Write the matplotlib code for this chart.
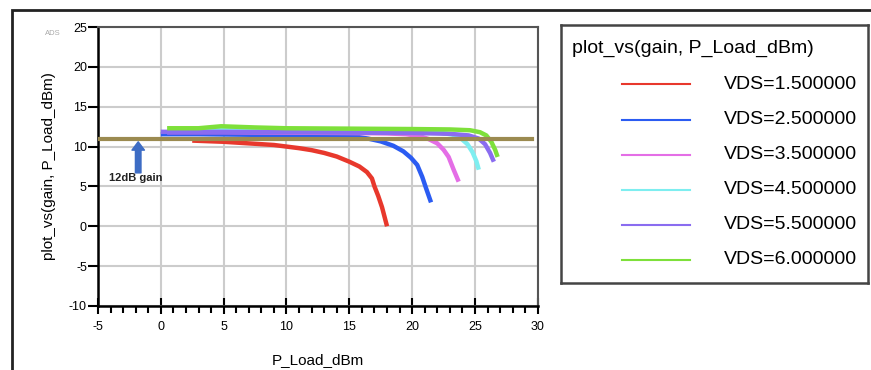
import matplotlib.pyplot as plt
from matplotlib.patches import Rectangle
from matplotlib.ticker import MultipleLocator

plt.rcParams['font.family'] = ['Liberation Sans', 'DejaVu Sans']
plt.rcParams['axes.unicode_minus'] = False

# swept curves, gain vs P_Load_dBm
vds_labels = ['VDS=1.500000', 'VDS=2.500000', 'VDS=3.500000',
              'VDS=4.500000', 'VDS=5.500000', 'VDS=6.000000']
colors = ['#e8382c', '#2b5cf2', '#e46ee6', '#7eeef0', '#8a6cf0', '#7ee03a']

x15 = [2.5, 5, 7, 9, 10, 11, 12, 13, 14, 15, 15.8, 16.4, 16.8, 17.0, 17.3, 17.6, 18.0]
y15 = [10.75, 10.6, 10.4, 10.2, 10.0, 9.8, 9.55, 9.2, 8.75, 8.1, 7.5, 6.8, 6.0, 5.0, 3.8, 2.4, 0.0]
x25 = [0, 3, 6, 9, 12, 14, 15.5, 16.5, 17.5, 18.5, 19.3, 19.9, 20.4, 20.8, 21.1, 21.5]
y25 = [11.55, 11.55, 11.5, 11.45, 11.4, 11.35, 11.25, 11.0, 10.65, 10.1, 9.4, 8.6, 7.7, 6.2, 4.8, 3.0]
x35 = [0.5, 5, 10, 15, 18, 19.5, 20.5, 21.3, 22.0, 22.5, 22.9, 23.3, 23.7]
y35 = [11.8, 11.8, 11.75, 11.7, 11.65, 11.55, 11.35, 10.95, 10.4, 9.6, 8.7, 7.1, 5.6]
x45 = [0.7, 5, 10, 15, 20, 22, 23.2, 23.9, 24.4, 24.8, 25.1, 25.3]
y45 = [12.05, 12.05, 12.05, 12.05, 11.95, 11.8, 11.5, 11.0, 10.3, 9.3, 8.2, 7.1]
x55 = [0, 5, 10, 15, 20, 23, 24.5, 25.3, 25.8, 26.2, 26.5]
y55 = [11.85, 11.85, 11.8, 11.75, 11.7, 11.6, 11.4, 11.0, 10.3, 9.2, 8.1]
x60 = [0.5, 3, 4.8, 7.5, 10, 15, 20, 23, 24.6, 25.4, 25.9, 26.3, 26.6, 26.8]
y60 = [12.3, 12.3, 12.55, 12.4, 12.3, 12.25, 12.2, 12.15, 12.05, 11.8, 11.4, 10.6, 9.6, 8.7]

xs = [x15, x25, x35, x45, x55, x60]
ys = [y15, y25, y35, y45, y55, y60]

# 12 dB reference line
ref_x = [-5, 29.5]
ref_y = [11, 11]

fig = plt.figure(figsize=(8.71, 3.70), dpi=100)
ax = fig.add_axes([0.1125, 0.173, 0.505, 0.754])

for i in range(len(xs)):
	ax.plot(xs[i], ys[i], color=colors[i], lw=3.2, solid_capstyle='butt')
ax.plot(ref_x, ref_y, color='#9b8a50', lw=3, zorder=5)

ax.annotate('', xy=(-1.8, 10.6), xytext=(-1.8, 6.7),
	arrowprops=dict(facecolor='#3d6cc4', edgecolor='#3d6cc4', width=4, headwidth=9, headlength=6))
ax.text(-2.0, 6.0, '12dB gain', fontsize=8, fontweight='bold', color='#222222', ha='center', va='center')

ax.set_xlim(-5, 30)
ax.set_ylim(-10, 25)
ax.xaxis.set_major_locator(MultipleLocator(5))
ax.xaxis.set_minor_locator(MultipleLocator(1))
ax.yaxis.set_major_locator(MultipleLocator(5))
ax.grid(True, which='major', color='#cccccc', lw=1.5)
ax.tick_params(axis='x', which='major', direction='inout', length=12, width=1.5, labelsize=9, pad=5)
ax.tick_params(axis='x', which='minor', direction='out', length=5, width=1.5)
ax.tick_params(axis='y', which='major', direction='out', length=7, width=1.5, labelsize=9, pad=1)
for s in ['left', 'bottom']:
	ax.spines[s].set_linewidth(1.8)
	ax.spines[s].set_color('black')
for s in ['top', 'right']:
	ax.spines[s].set_linewidth(1.5)
	ax.spines[s].set_color('#555555')

ax.set_xlabel('P_Load_dBm', fontsize=11, labelpad=14)
ax.set_ylabel('plot_vs(gain, P_Load_dBm)', fontsize=11, labelpad=9)
fig.text(0.052, 0.905, 'ADS', fontsize=5.5, color='#aaaaaa')

# legend box drawn by hand, ADS style
lg = fig.add_axes([0.644, 0.235, 0.3525, 0.697])
lg.set_xlim(0, 1)
lg.set_ylim(0, 1)
lg.set_xticks([])
lg.set_yticks([])
for s in lg.spines.values():
	s.set_linewidth(1.8)
	s.set_color('#444444')
lg.text(0.035, 0.91, 'plot_vs(gain, P_Load_dBm)', fontsize=14, va='center', ha='left')
for i in range(len(vds_labels)):
	yy = 0.77 - i * 0.136
	lg.plot([0.2, 0.42], [yy, yy], color=colors[i], lw=1.5)
	lg.text(0.965, yy, vds_labels[i], fontsize=14, va='center', ha='right')

fig.patches.append(Rectangle((0.014, -0.1), 1.2, 0.973 + 0.1, transform=fig.transFigure,
	fill=False, edgecolor='#222222', lw=2))

plt.savefig('out.png', dpi=100)
